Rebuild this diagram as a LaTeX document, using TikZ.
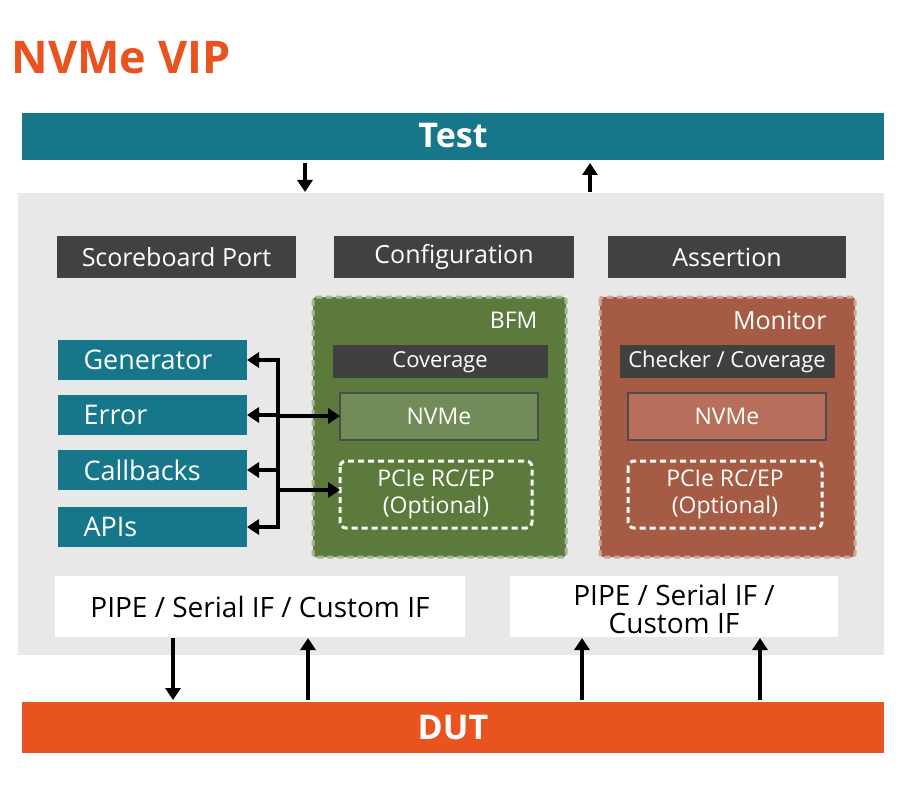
\documentclass[tikz,border=0pt]{standalone}
\usepackage{fontspec}
\setmainfont{Open Sans}
\usetikzlibrary{arrows.meta}
\definecolor{teal1}{HTML}{17778A}
\definecolor{dut}{HTML}{E9531F}
\definecolor{dk}{HTML}{414141}
\definecolor{bfm}{HTML}{5B7A3C}
\definecolor{bfmin}{HTML}{718C58}
\definecolor{mon}{HTML}{A65B45}
\definecolor{monin}{HTML}{B76F5B}
\begin{document}
\begin{tikzpicture}[x=1pt,y=-1pt,
  bx/.style={draw=none,text=white,font=\fontsize{27}{29}\selectfont},
  sm/.style={draw=none,text=white,font=\fontsize{23}{27}\selectfont},
  ar/.style={line width=4pt,-{Triangle[length=12pt,width=15pt]}}]
\useasboundingbox (0,0) rectangle (900,797);
\node[text=dut,font=\bfseries\fontsize{45}{48}\selectfont,anchor=west] (title) at (8,58) {NVMe VIP};
\fill[teal1] (22,113) rectangle (884,160);
\node[text=white,font=\bfseries\fontsize{34}{36}\selectfont] (test) at (453,136) {Test};
\fill[gray!18] (18,193) rectangle (884,655);
\fill[dut] (22,702) rectangle (884,753);
\node[text=white,font=\bfseries\fontsize{34}{36}\selectfont] (dut) at (453,728) {DUT};
% top arrows
\coordinate (t1a) at (305,163); \coordinate (t1b) at (305,192);
\coordinate (t2a) at (590,192); \coordinate (t2b) at (590,163);
\draw[ar] (t1a) -- (t1b); \draw[ar] (t2a) -- (t2b);
% dark boxes
\foreach \n/\x/\w/\t in {sb/57/296/Scoreboard Port,cf/334/574/Configuration,as/608/846/Assertion}{
  \fill[dk] (\x,236) rectangle (\w,278);
  \node[sm,font=\fontsize{25}{27}\selectfont] (\n) at ({(\x+\w)/2},257) {\t};}
% BFM
\draw[bfm!55!white,fill=bfm,line width=3pt,dash pattern=on 6pt off 4pt,rounded corners=3pt] (313,297) rectangle (566,557);
\node[sm,anchor=east] (bfmL) at (541,320) {BFM};
\fill[black!75] (333,345) rectangle (548,378);
\node[sm,font=\fontsize{22}{24}\selectfont] (cov) at (440,362) {Coverage};
\draw[black!70,fill=bfmin,line width=1.5pt] (340,393) rectangle (538,440);
\node[sm] (nv1) at (439,416) {NVMe};
\draw[white,line width=3pt,dash pattern=on 6pt off 4pt,rounded corners=6pt] (340,461) rectangle (532,528);
\node[sm,align=center] (pc1) at (436,494) {PCIe RC/EP\\(Optional)};
% Monitor
\draw[mon!55!white,fill=mon,line width=3pt,dash pattern=on 6pt off 4pt,rounded corners=3pt] (600,297) rectangle (855,557);
\node[sm,font=\fontsize{25}{27}\selectfont,anchor=east] (monL) at (830,320) {Monitor};
\fill[black!75] (620,345) rectangle (835,378);
\node[sm,font=\fontsize{22}{24}\selectfont] (cc) at (727,362) {Checker / Coverage};
\draw[black!70,fill=monin,line width=1.5pt] (628,393) rectangle (826,440);
\node[sm] (nv2) at (727,416) {NVMe};
\draw[white,line width=3pt,dash pattern=on 6pt off 4pt,rounded corners=6pt] (628,461) rectangle (822,528);
\node[sm,align=center] (pc2) at (725,494) {PCIe RC/EP\\(Optional)};
% left boxes
\foreach \n/\y/\t in {gen/360/Generator,err/415/Error,cb/470/Callbacks,api/527/APIs}{
  \fill[teal1] (58,\y-20) rectangle (247,\y+20);
  \node[bx,anchor=west] (\n) at (80,\y) {\t};
  \coordinate (\n e) at (247,\y);
  \coordinate (\n j) at (278,\y);
  \draw[ar] (\n j) -- (\n e);}
\draw[line width=4pt] (278,358) -- (278,529);
\coordinate (j1) at (278,416); \coordinate (n1w) at (340,416);
\coordinate (j2) at (278,490); \coordinate (p1w) at (340,490);
\draw[ar] (j1) -- (n1w); \draw[ar] (j2) -- (p1w);
% PIPE
\fill[white] (55,576) rectangle (465,637);
\node[font=\fontsize{28}{30}\selectfont] (pipe1) at (260,607) {PIPE / Serial IF / Custom IF};
\fill[white] (510,576) rectangle (838,637);
\node[font=\fontsize{28}{28}\selectfont,align=center] (pipe2) at (674,609) {PIPE / Serial IF /\\Custom IF};
\foreach \n/\x in {a/308,b/582,c/760}{
  \coordinate (u\n1) at (\x,700); \coordinate (u\n2) at (\x,638);
  \draw[ar] (u\n1) -- (u\n2);}
\coordinate (d1) at (173,638); \coordinate (d2) at (173,700);
\draw[ar] (d1) -- (d2);
\end{tikzpicture}
\end{document}
